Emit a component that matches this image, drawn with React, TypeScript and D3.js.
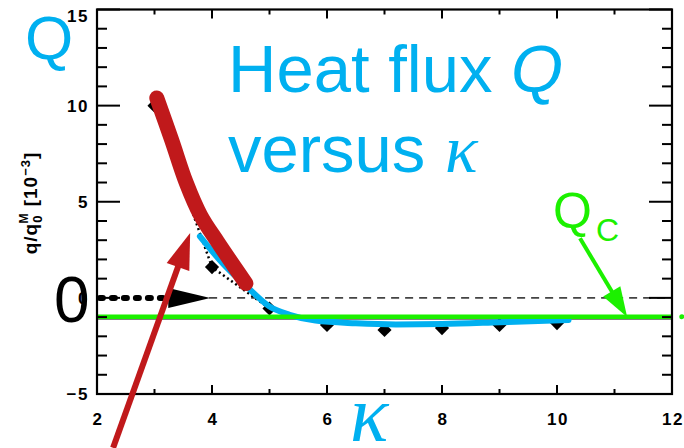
import * as d3 from "d3";

// data
const kappa = [3, 4, 5, 6, 7, 8, 9, 10];
const qFlux = [10, 1.6, -0.55, -1.41, -1.67, -1.57, -1.41, -1.31];

const blueKappa = [3.79, 4.2, 4.6, 5.0, 5.35, 5.8, 6.5, 7.2, 8, 9, 10.2];
const blueQ = [3.2, 1.75, 0.6, -0.45, -0.88, -1.18, -1.32, -1.38, -1.36, -1.27, -1.15];

const redKappa = [3.04, 3.3, 3.55, 3.8, 4.1, 4.59];
const redQ = [10.4, 8.2, 6.0, 4.3, 2.9, 0.75];

const qCritical = -0.98;

const xMajorTicks = [2, 4, 6, 8, 10, 12];
const xMinorTicks = [3, 5, 7, 9, 11];
const yMajorTicks = [-5, 0, 5, 10, 15];
const yMinorTicks = d3.range(-5, 16).filter((v) => v % 5 !== 0);

// annotation anchors in data units
const redArrow = { from: [2.28, -7.8], to: [3.62, 3.37] };
const greenArrow = { from: [10.4, 3.1], to: [11.22, -1.0] };
const zeroArrow = { from: [2.05, 0], to: [3.97, 0] };

const BLUE = "#00b0f0";
const GREEN = "#1cf000";
const RED = "#c0191b";

const W = 684;
const H = 448;

const x = d3.scaleLinear().domain([2, 12]).range([97, 672]);
const y = d3.scaleLinear().domain([-5, 15]).range([394, 9.5]);

function arrowHead(
  from: number[],
  to: number[],
  len: number,
  half: number,
): string {
  const x0 = x(from[0]);
  const y0 = y(from[1]);
  const x1 = x(to[0]);
  const y1 = y(to[1]);
  const a = Math.atan2(y1 - y0, x1 - x0);
  const bx = x1 - len * Math.cos(a);
  const by = y1 - len * Math.sin(a);
  const px = -Math.sin(a) * half;
  const py = Math.cos(a) * half;
  return `M${x1},${y1}L${bx + px},${by + py}L${bx - px},${by - py}Z`;
}

function shaft(from: number[], to: number[], len: number): number[] {
  const x0 = x(from[0]);
  const y0 = y(from[1]);
  const x1 = x(to[0]);
  const y1 = y(to[1]);
  const a = Math.atan2(y1 - y0, x1 - x0);
  return [x0, y0, x1 - len * Math.cos(a), y1 - len * Math.sin(a)];
}

export default function App() {
  const pts = kappa.map((k, i) => [k, qFlux[i]] as [number, number]);
  const bluePts = blueKappa.map((k, i) => [k, blueQ[i]] as [number, number]);
  const redPts = redKappa.map((k, i) => [k, redQ[i]] as [number, number]);

  const smooth = d3
    .line<[number, number]>()
    .x((d) => x(d[0]))
    .y((d) => y(d[1]))
    .curve(d3.curveMonotoneX);
  const soft = d3
    .line<[number, number]>()
    .x((d) => x(d[0]))
    .y((d) => y(d[1]))
    .curve(d3.curveCatmullRom.alpha(0.5));
  const straight = d3
    .line<[number, number]>()
    .x((d) => x(d[0]))
    .y((d) => y(d[1]));

  const [x0, x1] = x.range();
  const [yb, yt] = y.range();

  const rs = shaft(redArrow.from, redArrow.to, 30);
  const gs = shaft(greenArrow.from, greenArrow.to, 28);
  const zs = shaft(zeroArrow.from, zeroArrow.to, 38);

  const tickFont = "'Liberation Sans', Arial, sans-serif";
  const serif = "'Liberation Serif', 'Times New Roman', serif";

  return (
    <svg
      width={W}
      height={H}
      style={{ position: "absolute", left: 0, top: 0, background: "#fff" }}
    >
      {/* zero dashed line */}
      <line
        x1={x(3.95)}
        x2={x1}
        y1={y(0)}
        y2={y(0)}
        stroke="#444"
        strokeWidth={1.6}
        strokeDasharray="8,6"
      />

      {/* black Qc line under the green one */}
      <line
        x1={x0}
        x2={x1}
        y1={y(qCritical) + 2}
        y2={y(qCritical) + 2}
        stroke="#000"
        strokeWidth={1.5}
      />

      {/* dotted segment through the first simulation points */}
      <path
        d={straight(pts.slice(0, 3)) ?? ""}
        fill="none"
        stroke="#000"
        strokeWidth={2.5}
        strokeDasharray="2,3"
      />
      {pts.map((p, i) => (
        <rect
          key={i}
          x={x(p[0]) - 5}
          y={y(p[1]) - 5}
          width={10}
          height={10}
          fill="#000"
          transform={`rotate(45 ${x(p[0])} ${y(p[1])})`}
        />
      ))}

      {/* blue fitted curve */}
      <path
        d={smooth(bluePts) ?? ""}
        fill="none"
        stroke={BLUE}
        strokeWidth={6}
        strokeLinecap="round"
      />

      {/* green Qc line */}
      <line
        x1={x0}
        x2={x1}
        y1={y(qCritical)}
        y2={y(qCritical)}
        stroke={GREEN}
        strokeWidth={4.5}
      />
      <circle cx={x(12.17)} cy={y(qCritical)} r={2.5} fill={GREEN} />

      {/* red thick curve */}
      <path
        d={soft(redPts) ?? ""}
        fill="none"
        stroke={RED}
        strokeWidth={15}
        strokeLinecap="round"
      />

      {/* frame */}
      <rect
        x={x0}
        y={yt}
        width={x1 - x0}
        height={yb - yt}
        fill="none"
        stroke="#000"
        strokeWidth={2.2}
      />

      {/* ticks */}
      <g stroke="#000" strokeWidth={2}>
        {xMajorTicks.map((t) => (
          <g key={"xM" + t}>
            <line x1={x(t)} x2={x(t)} y1={yb} y2={yb - 9} />
            <line x1={x(t)} x2={x(t)} y1={yt} y2={yt + 9} />
          </g>
        ))}
        {xMinorTicks.map((t) => (
          <g key={"xm" + t}>
            <line x1={x(t)} x2={x(t)} y1={yb} y2={yb - 5} />
            <line x1={x(t)} x2={x(t)} y1={yt} y2={yt + 5} />
          </g>
        ))}
        {yMajorTicks.map((t) => (
          <g key={"yM" + t}>
            <line x1={x0} x2={x0 + 23} y1={y(t)} y2={y(t)} />
            <line x1={x1} x2={x1 - 23} y1={y(t)} y2={y(t)} />
          </g>
        ))}
        {yMinorTicks.map((t) => (
          <g key={"ym" + t}>
            <line x1={x0} x2={x0 + 10} y1={y(t)} y2={y(t)} />
            <line x1={x1} x2={x1 - 10} y1={y(t)} y2={y(t)} />
          </g>
        ))}
      </g>

      {/* tick labels */}
      <g
        fontFamily={tickFont}
        fontWeight="bold"
        fontSize={17}
        letterSpacing={1.5}
        fill="#000"
      >
        {xMajorTicks.map((t) => (
          <text key={"xl" + t} x={x(t) + 1} y={425} textAnchor="middle">
            {t}
          </text>
        ))}
        {yMajorTicks.map((t) => (
          <text
            key={"yl" + t}
            x={x0 - 8}
            y={Math.max(y(t) + 6, 22)}
            textAnchor="end"
          >
            {t < 0 ? "\u2212" + Math.abs(t) : t}
          </text>
        ))}
      </g>

      {/* y axis title */}
      <text
        transform="translate(37,203) rotate(-90)"
        textAnchor="middle"
        fontFamily={tickFont}
        fontWeight="bold"
        fontSize={19}
        letterSpacing={1}
        fill="#000"
      >
        <tspan>q/q</tspan>
        <tspan fontSize={13} dy={5}>
          0
        </tspan>
        <tspan fontSize={12} dx={-9} dy={-14}>
          M
        </tspan>
        <tspan dy={9}> [10</tspan>
        <tspan fontSize={13} dy={-7}>
          −3
        </tspan>
        <tspan dy={7}>]</tspan>
      </text>

      {/* black dotted arrow to zero */}
      <line
        x1={zs[0]}
        y1={zs[1]}
        x2={zs[2]}
        y2={zs[3]}
        stroke="#000"
        strokeWidth={6}
        strokeLinecap="round"
        strokeDasharray="3,9"
      />
      <path d={arrowHead(zeroArrow.from, zeroArrow.to, 42, 10)} fill="#000" />

      {/* red arrow */}
      <line
        x1={rs[0]}
        y1={rs[1]}
        x2={rs[2]}
        y2={rs[3]}
        stroke={RED}
        strokeWidth={6}
      />
      <path d={arrowHead(redArrow.from, redArrow.to, 36, 12)} fill={RED} />

      {/* green arrow */}
      <line
        x1={gs[0]}
        y1={gs[1]}
        x2={gs[2]}
        y2={gs[3]}
        stroke={GREEN}
        strokeWidth={4}
      />
      <path d={arrowHead(greenArrow.from, greenArrow.to, 30, 10)} fill={GREEN} />

      {/* annotation texts */}
      <g fontFamily="'Liberation Sans', Arial, sans-serif">
        <text x={25} y={59} fontSize={62} fill={BLUE}>
          Q
        </text>
        <text x={228} y={92} fontSize={67} fill={BLUE}>
          Heat flux <tspan fontStyle="italic">Q</tspan>
        </text>
        <text x={228} y={172} fontSize={67} fill={BLUE}>
          versus
        </text>
        <text
          x={445}
          y={172}
          fontFamily={serif}
          fontStyle="italic"
          fontSize={68}
          fill={BLUE}
        >
          κ
        </text>
        <text x={553} y={228} fontSize={50} fill={GREEN}>
          Q
        </text>
        <text x={596} y={241} fontSize={32} fill={GREEN}>
          C
        </text>
        <text x={54} y={322} fontSize={64} fill="#000">
          0
        </text>
        <text
          x={350}
          y={441}
          fontFamily={serif}
          fontStyle="italic"
          fontSize={80}
          fill={BLUE}
        >
          κ
        </text>
      </g>
    </svg>
  );
}
